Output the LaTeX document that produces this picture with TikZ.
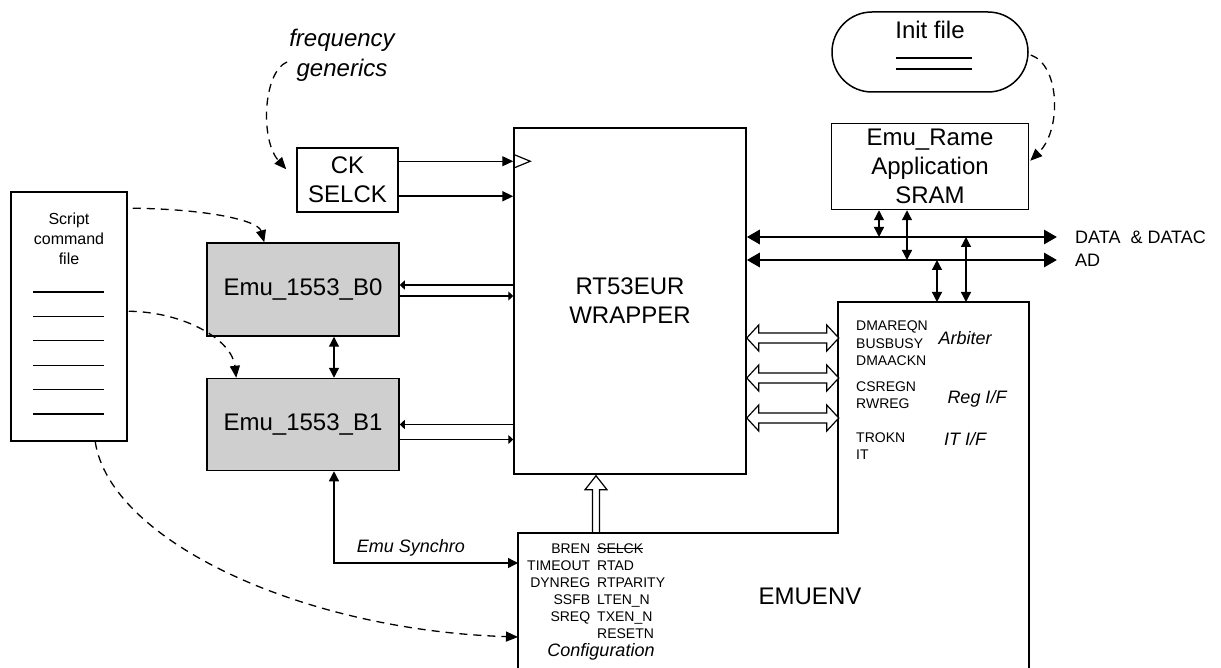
\documentclass[tikz,border=0pt]{standalone}
\usepackage{fontspec}
\setmainfont{Liberation Sans}
\usetikzlibrary{arrows.meta,positioning,calc}
\definecolor{emugrey}{HTML}{CFCFCF}
\newcommand{\emubig}{\fontsize{24}{29}\selectfont}
\newcommand{\emumid}{\fontsize{18}{22}\selectfont}
\newcommand{\emusmall}{\fontsize{16}{20}\selectfont}
\newcommand{\emusig}{\fontsize{14}{17}\selectfont}
\newcommand{\emustrike}[1]{\setbox0\hbox{#1}\rlap{\rule[0.42\ht0]{\wd0}{0.8pt}}#1}

\begin{document}
\begin{tikzpicture}[x=1pt,y=-1pt,
  box/.style={draw,line width=1.5pt,inner sep=0pt,align=center,font=\emubig},
  emu/.style={box,fill=emugrey,minimum width=192pt,minimum height=92pt},
  sig/.style={inner sep=0pt,align=left,font=\emusig},
  lbl/.style={inner sep=0pt,align=center,font=\emumid\itshape},
  wire/.style={line width=1.3pt,-{Triangle[length=11pt,width=10pt]}},
  wirebi/.style={line width=1.3pt,{Triangle[length=10pt,width=10pt]}-{Triangle[length=10pt,width=10pt]}},
  smallarr/.style={line width=1.3pt,-{Triangle[length=5pt,width=9pt]}},
  bus/.style={line width=2.8pt,{Triangle[length=13pt,width=14pt]}-{Triangle[length=13pt,width=14pt]}},
  dasharr/.style={line width=1.3pt,dash pattern=on 8pt off 6pt,-{Triangle[length=12pt,width=10pt]}},
  hollow/.style={line width=1.2pt,fill=white}
]
\useasboundingbox (0,0) rectangle (1221,668);

% script file
\node[box,minimum width=116pt,minimum height=249pt] (script) at (69,316.5) {};
\node[inner sep=0pt,align=center,font=\emusmall,below=21pt of script.north] (scripttxt) {Script\\command\\file};
\foreach \k in {0,...,5}
  \draw[line width=1.3pt] (33,292+24.4*\k) -- (104,292+24.4*\k);

% clock generics
\node[lbl,font=\fontsize{24}{30}\selectfont\itshape] (freq) at (342,55) {frequency\\generics};
\coordinate (freqout) at (287,62);
\node[box,minimum width=101pt,minimum height=64pt] (ck) at (347.5,180) {CK\\SELCK};

% emulators
\node[emu,minimum height=93pt] (b0) at (303,289.5) {Emu\_1553\_B0};
\node[emu,below=41pt of b0] (b1) {Emu\_1553\_B1};

% wrapper
\node[box,minimum width=232pt,minimum height=346pt] (wrap) at (630,301) {RT53EUR\\WRAPPER};

% init file and sram
\node[box,rounded corners=40pt,minimum width=196pt,minimum height=80pt] (init) at (930,52) {};
\node[inner sep=0pt,font=\emubig] (inittxt) at (930,30) {Init file};
\draw[line width=1.3pt] (896,58) -- (972,58) (896,69) -- (972,69);
\node[box,minimum width=197pt,minimum height=86pt,below=30pt of init] (sram) {Emu\_Rame\\Application\\SRAM};

% emuenv outline
\coordinate (envtl) at (518,533);
\coordinate (envarb) at (838,302);
\coordinate (envtr) at (1029,302);
\draw[hollow] ($(wrap.south)+(-37.5,59)$) -- ++(0,-44) -- ++(-7.5,0) -- ++(11,-14) -- ++(11,14) -- ++(-7.5,0) -- ++(0,44);
\draw[line width=1.5pt] (518,680) -- (envtl) -- (envtl -| envarb) -- (envarb) -- (envtr) -- (1029,680);
\node[inner sep=0pt,font=\emubig] (emuenv) at (810,596) {EMUENV};

% configuration signals
\node[sig,anchor=north west] (conf) at (527,541) {\begin{tabular}{@{}r@{\hspace{7pt}}l@{}}
  BREN & \emustrike{SELCK}\\ TIMEOUT & RTAD\\ DYNREG & RTPARITY\\
  SSFB & LTEN\_N\\ SREQ & TXEN\_N\\ & RESETN\end{tabular}};
\node[lbl] (conftitle) at (601,652) {Configuration};

% arbiter, reg and it signals
\node[sig,anchor=west,font=\fontsize{14}{17.5}\selectfont] (arbsig) at (856,343.5) {DMAREQN\\BUSBUSY\\DMAACKN};
\node[lbl] (arb) at (965,338) {Arbiter};
\node[sig,anchor=west] (regsig) at (856,395.5) {CSREGN\\RWREG};
\node[lbl] (reg) at (977,399) {Reg I/F};
\node[sig,anchor=west,font=\fontsize{14}{16.5}\selectfont] (itsig) at (856,446) {TROKN\\IT};
\node[lbl] (itif) at (965,439) {IT I/F};

% buses
\coordinate (dataend) at (1057,237);
\coordinate (adend) at (1057,260);
\node[sig,font=\emumid,anchor=west] (datalbl) at (1075,237) {DATA\ \ \& DATAC};
\node[sig,font=\emumid,anchor=west] (adlbl) at (1075,260) {AD};
\draw[bus] (dataend -| wrap.east) -- (dataend);
\draw[bus] (adend -| wrap.east) -- (adend);
\coordinate (tap1) at ($(sram.south)+(-51,0)$);
\coordinate (tap2) at ($(sram.south)+(-23,0)$);
\coordinate (tap3) at ($(envarb)+(99,0)$);
\coordinate (tap4) at ($(envarb)+(128,0)$);
\draw[wirebi] (tap1) -- (tap1 |- dataend);
\draw[wirebi] (tap2) -- (tap2 |- adend);
\draw[wirebi] (tap3 |- adend) -- (tap3);
\draw[wirebi] (tap4 |- dataend) -- (tap4);

% clock and select
\coordinate (ckclk) at ($(ck.north east)+(0,14)$);
\coordinate (cksel) at ($(ck.north east)+(0,49)$);
\draw[wire] (ckclk) -- (ckclk -| wrap.west);
\draw[line width=1.2pt] (ckclk -| wrap.west) ++(0,-7) -- ++(17,7) -- ++(-17,7);
\draw[wire,line width=2.2pt] (cksel) -- (cksel -| wrap.west);

% emulators to wrapper
\coordinate (b0in) at ($(b0.east)+(0,-4.5)$);
\coordinate (b0out) at ($(b0.east)+(0,6.5)$);
\coordinate (b1in) at (b1.east);
\coordinate (b1out) at ($(b1.east)+(0,15)$);
\draw[smallarr] (b0in -| wrap.west) -- (b0in);
\draw[smallarr] (b0out) -- (b0out -| wrap.west);
\draw[smallarr] (b1in -| wrap.west) -- (b1in);
\draw[smallarr] (b1out) -- (b1out -| wrap.west);
\draw[wirebi] ($(b0.south)+(31,0)$) -- ($(b1.north)+(31,0)$);
\coordinate (synin) at ($(envtl)+(0,30)$);
\draw[wirebi] ($(b1.south)+(31,0)$) |- (synin);
\node[lbl] (sync) at (411,548) {Emu Synchro};

% wrapper to emuenv
\foreach \dy in {37,77,117}
  \draw[hollow] ($(wrap.east)+(0,\dy)$) -- ++(12,-13) -- ++(0,8) -- ++(68,0) -- ++(0,-8) -- ++(12,13)
    -- ++(-12,13) -- ++(0,-8) -- ++(-68,0) -- ++(0,8) -- cycle;

% file links
\draw[dasharr] (freqout) .. controls (263,72) and (260,140) .. ($(ck.north west)+(-10,22)$);
\draw[dasharr] ($(script.north east)+(5,17)$) .. controls (205,209) and (258,220) .. ($(b0.north west)+(58,0)$);
\draw[dasharr] ($(script.north east)+(1,120)$) .. controls (185,312) and (232,340) .. ($(b1.north west)+(30,0)$);
\draw[dasharr] ($(script.south west)+(85,0)$) .. controls (110,540) and (300,630) .. ($(envtl)+(0,104)$);
\draw[dasharr] ($(init.east)+(2,3)$) .. controls (1060,65) and (1062,130) .. ($(sram.north east)+(1,38)$);
\end{tikzpicture}
\end{document}
